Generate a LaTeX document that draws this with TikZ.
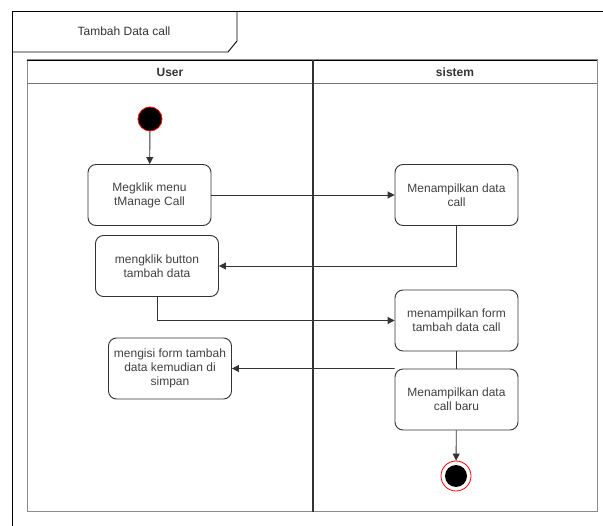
\documentclass[tikz,border=0pt]{standalone}
\usepackage{fontspec}
\setmainfont{Liberation Sans}
\usetikzlibrary{arrows.meta}
\begin{document}
\begin{tikzpicture}[x=1pt,y=-1pt,
  act/.style={draw=black!80,rounded corners=8pt,line width=0.9pt,minimum width=123pt,minimum height=61pt,align=center,font=\fontsize{12}{14}\selectfont,text=black!75,inner sep=2pt},
  flow/.style={draw=black!80,line width=0.9pt,-{Triangle[length=7pt,width=7pt]}},
  plain/.style={draw=black!80,line width=0.9pt},
  hdr/.style={font=\bfseries\fontsize{12}{14}\selectfont,text=black!80}]
\useasboundingbox (0,0) rectangle (603,526);
% outer frame
\draw[line width=0.9pt] (12,526) -- (12,11) -- (603,11);
\draw[line width=0.9pt] (12,52) -- (228,52) -- (237,41) -- (237,11);
\node[font=\fontsize{12}{14}\selectfont,text=black!80] (title) at (124,31) {Tambah Data call};
% pool
\draw[black!45,line width=1pt] (27,60) rectangle (597,512);
\draw[black,line width=0.9pt] (27,60) -- (597,60);
\draw[black!55,line width=1pt] (27,84) -- (597,84);
\draw[black!80,line width=1.1pt] (313,60) -- (313,512);
\node[hdr] (huser) at (170,72) {User};
\node[hdr] (hsis) at (455,72) {sistem};
% start
\node[circle,fill=black,draw=red,line width=0.8pt,minimum size=24pt,inner sep=0pt] (start) at (150,119) {};
% activities
\node[act] (a1) at (149.5,195) {Megklik menu\\tManage Call};
\node[act] (a2) at (157,266) {mengklik button\\tambah data};
\node[act] (a3) at (456.5,195) {Menampilkan data\\call};
\node[act] (a4) at (456.5,320.5) {menampilkan form\\tambah data call};
\node[act] (a5) at (456.5,399.5) {Menampilkan data\\call baru};
\node[act] (a6) at (170,368.5) {mengisi form tambah\\data kemudian di\\simpan};
% end
\node[circle,fill=white,draw=red,line width=0.8pt,minimum size=30pt,inner sep=0pt] (end) at (456,476) {};
\node[circle,fill=black,minimum size=22pt,inner sep=0pt] (endin) at (456,476) {};
% flows
\draw[flow] (start) -- (a1);
\draw[flow] (a1) -- (a3);
\draw[flow] (a3.south) |- (a2.east);
\draw[flow] (a2.south) |- (a4.west);
\draw[plain] (a4) -- (a5);
\draw[flow] (a5.north west) -- (a6.east);
\draw[flow] (a5) -- (end);
\end{tikzpicture}
\end{document}
